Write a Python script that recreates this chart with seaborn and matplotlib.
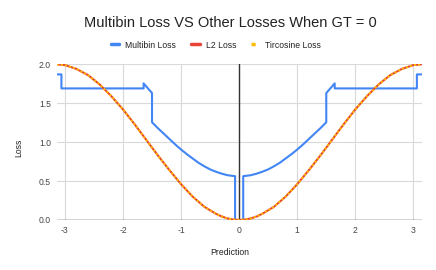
import matplotlib
matplotlib.use("Agg")
import numpy as np
import pandas as pd
import seaborn as sns
import matplotlib.pyplot as plt
from matplotlib.lines import Line2D

# ---- data ----
title = "Multibin Loss VS Other Losses When GT = 0"
series_names = ["Multibin Loss", "L2 Loss", "Tircosine Loss"]

l2_x = [-3.1416, -3.0, -2.8, -2.6, -2.4, -2.2, -2.0, -1.8, -1.6, -1.4, -1.2, -1.0,
        -0.8, -0.6, -0.4, -0.3, -0.2, -0.1, 0.0, 0.1, 0.2, 0.3, 0.4, 0.6, 0.8, 1.0,
        1.2, 1.4, 1.6, 1.8, 2.0, 2.2, 2.4, 2.6, 2.8, 3.0, 3.1416]
l2_y = [2.00, 1.99, 1.94, 1.86, 1.74, 1.59, 1.42, 1.23, 1.03, 0.83, 0.64, 0.46,
        0.30, 0.17, 0.08, 0.045, 0.02, 0.005, 0.00, 0.005, 0.02, 0.045, 0.08, 0.17, 0.30, 0.46,
        0.64, 0.83, 1.03, 1.23, 1.42, 1.59, 1.74, 1.86, 1.94, 1.99, 2.00]
tircos_x = list(l2_x)
tircos_y = list(l2_y)

mb_x = [-3.1416, -3.06, -3.06, -1.645, -1.645, -1.50, -1.50, -1.4, -1.3, -1.2, -1.1,
        -1.0, -0.9, -0.8, -0.7, -0.6, -0.5, -0.4, -0.3, -0.2, -0.07, -0.07,
        0.07, 0.07, 0.2, 0.3, 0.4, 0.5, 0.6, 0.7, 0.8, 0.9, 1.0, 1.1, 1.2, 1.3,
        1.4, 1.50, 1.50, 1.645, 1.645, 3.06, 3.06, 3.1416]
mb_y = [1.87, 1.87, 1.69, 1.69, 1.755, 1.63, 1.255, 1.18, 1.11, 1.04, 0.97,
        0.905, 0.845, 0.79, 0.735, 0.69, 0.65, 0.62, 0.595, 0.575, 0.563, 0.0,
        0.0, 0.563, 0.575, 0.595, 0.62, 0.65, 0.69, 0.735, 0.79, 0.845, 0.905, 0.97, 1.04, 1.11,
        1.18, 1.255, 1.63, 1.755, 1.69, 1.69, 1.87, 1.87]

x_ticks = [-3, -2, -1, 0, 1, 2, 3]
x_tick_labels = ["-3", "-2", "-1", "0", "1", "2", "3"]
y_ticks = [0.0, 0.5, 1.0, 1.5, 2.0]
y_tick_labels = ["0.0", "0.5", "1.0", "1.5", "2.0"]

colors = {"Multibin Loss": "#4285F4", "L2 Loss": "#EA4335", "Tircosine Loss": "#FBBC04"}

# ---- plot ----
sns.set_theme(style="white")
plt.rcParams["font.family"] = ["Liberation Sans", "DejaVu Sans"]

fig = plt.figure(figsize=(4.36, 2.70), dpi=100)
ax = fig.add_axes([0.130, 0.1852, 0.837, 0.5767])

df_mb = pd.DataFrame({"x": mb_x, "y": mb_y})
df_l2 = pd.DataFrame({"x": l2_x, "y": l2_y})
df_tc = pd.DataFrame({"x": tircos_x, "y": tircos_y})

sns.lineplot(data=df_mb, x="x", y="y", ax=ax, sort=False, estimator=None,
             color=colors["Multibin Loss"], lw=1.5, zorder=4)
sns.lineplot(data=df_l2, x="x", y="y", ax=ax, sort=False, estimator=None,
             color=colors["L2 Loss"], lw=1.5, zorder=5)
sns.lineplot(data=df_tc, x="x", y="y", ax=ax, sort=False, estimator=None,
             color=colors["Tircosine Loss"], lw=1.5, linestyle=(0, (1, 1)), zorder=6)

ax.set_xlim(-3.1416, 3.1416)
ax.set_ylim(0, 2.0)
ax.set_xticks(x_ticks)
ax.set_xticklabels(x_tick_labels)
ax.set_yticks(y_ticks)
ax.set_yticklabels(y_tick_labels)
ax.tick_params(axis="both", length=0, labelsize=6.2, colors="#444444")
ax.tick_params(axis="x", pad=4)
ax.tick_params(axis="y", pad=4)

ax.grid(True, color="#d9d9d9", lw=0.8, zorder=0)
ax.set_axisbelow(True)
for s in ax.spines.values():
    s.set_visible(False)
ax.axhline(0, color="#333333", lw=1.0, zorder=3)
ax.axvline(0, color="#333333", lw=1.0, zorder=3)

ax.set_xlabel("Prediction", fontsize=6.2, color="#222222")
ax.set_ylabel("Loss", fontsize=6.2, color="#222222")
ax.xaxis.label.set_va("center")
ax.yaxis.label.set_va("center")
ax.xaxis.set_label_coords(0.475, -0.21)
ax.yaxis.set_label_coords(-0.103, 0.463)

fig.text(230 / 436, 1 - 23 / 270, title, ha="center", va="center",
         fontsize=10.5, color="#222222")

handles = [
    Line2D([], [], color=colors["Multibin Loss"], lw=2.5),
    Line2D([], [], color=colors["L2 Loss"], lw=2.5),
    Line2D([], [], color=colors["Tircosine Loss"], lw=2.5, linestyle=(0, (1.2, 1.2))),
]
leg = ax.legend(handles, series_names, loc="center", ncol=3, frameon=False,
                bbox_to_anchor=(216 / 436, 1 - 45 / 270), bbox_transform=fig.transFigure,
                fontsize=6.2, handlelength=1.0, handletextpad=0.7, columnspacing=1.7)
for t in leg.get_texts():
    t.set_color("#222222")

fig.savefig("out.png", dpi=100)
